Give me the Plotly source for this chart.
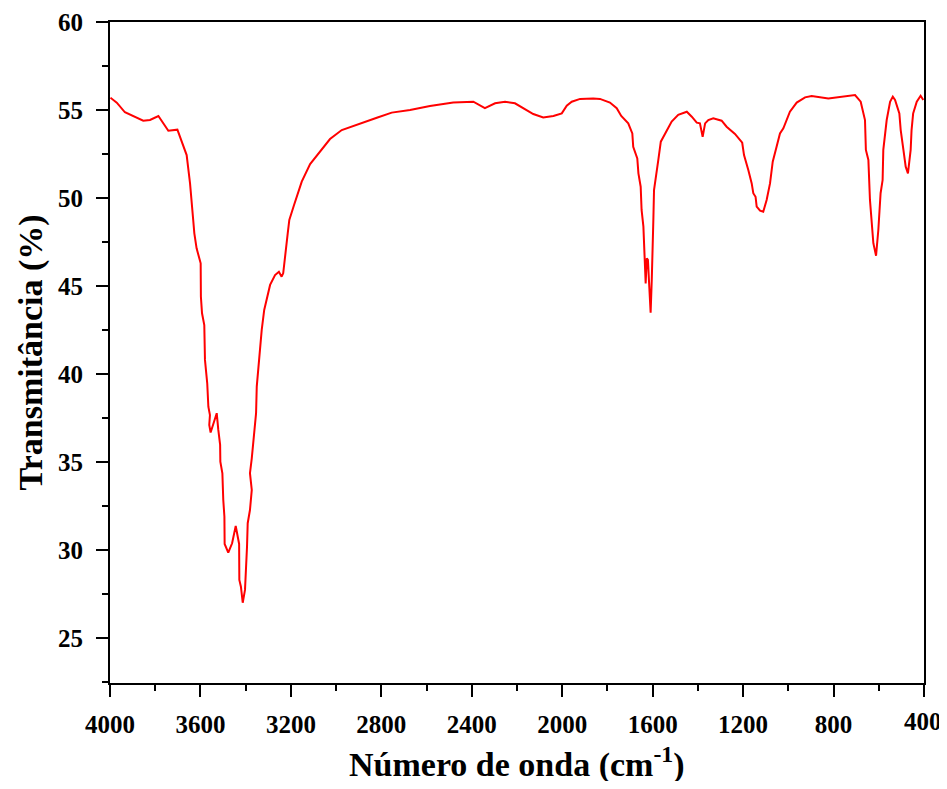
import plotly.graph_objects as go

wavenumber = [3998, 3970, 3934, 3853, 3823, 3786, 3742, 3702, 3661, 3646, 3632, 3627, 3617, 3599, 3598,
              3593, 3583, 3580, 3570, 3565, 3558, 3561, 3555, 3528, 3521, 3513, 3512, 3503, 3499, 3494,
              3493, 3477, 3460, 3444, 3429, 3428, 3421, 3413, 3403, 3399, 3395, 3394, 3391, 3381, 3373,
              3381, 3373, 3363, 3354, 3351, 3340, 3329, 3318, 3304, 3292, 3270, 3253, 3241, 3234, 3214,
              3207, 3186, 3152, 3115, 3071, 3027, 2975, 2894, 2820, 2754, 2673, 2585, 2482, 2393, 2342,
              2297, 2253, 2209, 2172, 2128, 2084, 2039, 2002, 1980, 1958, 1921, 1863, 1833, 1789, 1759,
              1739, 1708, 1690, 1686, 1668, 1663, 1653, 1649, 1641, 1637, 1631, 1626, 1621, 1615, 1609,
              1604, 1601, 1597, 1594, 1585, 1575, 1564, 1545, 1516, 1487, 1449, 1427, 1405, 1391, 1379,
              1368, 1354, 1332, 1295, 1273, 1236, 1204, 1196, 1177, 1162, 1155, 1145, 1140, 1125, 1111,
              1096, 1081, 1069, 1052, 1037, 1022, 993, 963, 926, 897, 823, 705, 680, 661, 657,
              646, 639, 624, 612, 602, 592, 583, 580, 565, 550, 538, 528, 509, 503, 491,
              481, 471, 459, 455, 448, 432, 415, 403]

transmittance = [55.70, 55.42, 54.87, 54.39, 54.43, 54.66, 53.82, 53.88, 52.44, 50.83, 48.75, 47.99, 47.14, 46.29, 44.39,
                 43.45, 42.78, 40.80, 39.47, 38.14, 37.67, 37.10, 36.67, 37.77, 36.82, 35.97, 35.02, 34.36, 32.84, 31.89,
                 30.34, 29.85, 30.38, 31.36, 30.34, 28.30, 27.91, 27.00, 27.73, 28.67, 29.24, 30.19, 31.52, 32.27, 33.41,
                 34.36, 35.21, 36.63, 37.77, 39.28, 40.98, 42.50, 43.64, 44.49, 45.06, 45.62, 45.81, 45.53, 45.72, 47.99,
                 48.75, 49.60, 50.93, 51.93, 52.63, 53.35, 53.86, 54.24, 54.56, 54.85, 55.00, 55.23, 55.42, 55.47, 55.10,
                 55.38, 55.47, 55.38, 55.10, 54.77, 54.58, 54.66, 54.81, 55.25, 55.47, 55.63, 55.66, 55.63, 55.42, 55.10,
                 54.66, 54.24, 53.67, 52.91, 52.25, 51.40, 50.64, 49.32, 48.37, 46.86, 45.15, 46.57, 46.48, 44.96, 43.48,
                 45.34, 47.99, 48.75, 50.45, 51.40, 52.16, 53.20, 53.67, 54.34, 54.72, 54.90, 54.62, 54.28, 54.24, 53.48,
                 54.24, 54.43, 54.53, 54.39, 54.05, 53.64, 53.14, 52.44, 51.59, 50.83, 50.27, 50.07, 49.51, 49.28, 49.22,
                 49.89, 50.83, 52.06, 52.91, 53.67, 53.96, 54.90, 55.42, 55.72, 55.80, 55.66, 55.85, 55.47, 54.43, 52.73,
                 52.16, 49.89, 47.43, 46.72, 48.18, 50.27, 51.02, 52.73, 54.43, 55.47, 55.76, 55.57, 54.81, 53.86, 52.73,
                 51.78, 51.40, 52.73, 53.86, 54.81, 55.47, 55.81, 55.57]

x_ticks = [4000, 3600, 3200, 2800, 2400, 2000, 1600, 1200, 800, 400]
y_ticks = [25, 30, 35, 40, 45, 50, 55, 60]

FONT = "Liberation Serif, Times New Roman, serif"
TICKFONT = dict(family=FONT, size=25, color="black", weight="bold")

fig = go.Figure()
fig.add_trace(go.Scatter(x=wavenumber, y=transmittance, mode="lines",
                         line=dict(color="#ff0000", width=2), showlegend=False))

axis_common = dict(
    showgrid=False, zeroline=False, showline=True, linecolor="black", linewidth=2,
    mirror=True, ticks="outside", ticklen=12, tickwidth=2, tickcolor="black",
    ticklabeloverflow="allow", automargin=False, tickfont=TICKFONT,
)

# the last x label (400) is drawn as an annotation anchored at its right edge so it stays inside the page
x_ticktext = [str(v) for v in x_ticks[:-1]] + [""]
fig.update_xaxes(range=[4000, 400], tickvals=x_ticks, ticktext=x_ticktext,
                 minor=dict(dtick=200, ticks="outside", ticklen=6, tickwidth=2, tickcolor="black"),
                 ticklabelstandoff=6, **axis_common)
fig.update_yaxes(range=[22.44, 60], tickvals=y_ticks,
                 minor=dict(dtick=2.5, tick0=22.5, ticks="outside", ticklen=6, tickwidth=2, tickcolor="black"),
                 ticklabelstandoff=8, **axis_common)

fig.add_annotation(text=str(x_ticks[-1]), xref="x", yref="paper", x=x_ticks[-1], y=0,
                   xanchor="right", yanchor="middle", xshift=20, yshift=-38, showarrow=False,
                   font=TICKFONT)

fig.add_annotation(text="Número de onda (cm<sup>-1</sup>)", xref="paper", yref="paper", x=0.5, y=0,
                   xanchor="center", yanchor="middle", yshift=-79, showarrow=False,
                   font=dict(family=FONT, size=34, color="black", weight="bold"))
fig.add_annotation(text="Transmitância (%)", xref="paper", yref="paper", x=0, y=0.5,
                   xanchor="center", yanchor="middle", xshift=-80, textangle=-90, showarrow=False,
                   font=dict(family=FONT, size=34, color="black", weight="bold"))

# page body has an 8px margin, so offsets are reduced accordingly
fig.update_layout(width=939, height=773, margin=dict(l=102, r=23, t=14, b=98),
                  plot_bgcolor="white", paper_bgcolor="white")

fig.write_html("out.html")
